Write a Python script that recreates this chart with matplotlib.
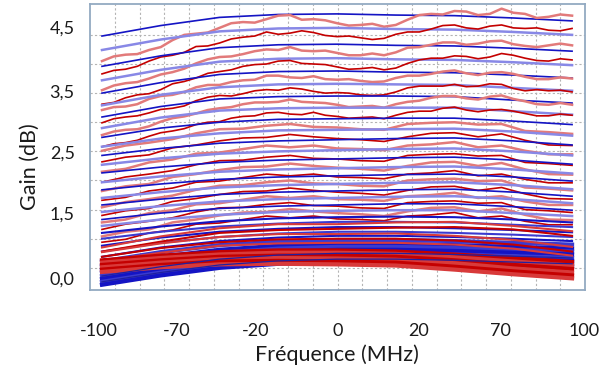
import matplotlib
matplotlib.use("Agg")
import matplotlib.pyplot as plt

plt.rcParams['font.family'] = ['Lato', 'DejaVu Sans']

# ---------------- data ----------------
freq_coarse = [-100, -75, -50, -25, 0, 25, 50, 75, 100]
freq_fine = [-100, -90, -80, -70, -60, -50, -40, -30, -20, -10, 0,
             10, 20, 30, 40, 50, 60, 70, 80, 90, 100]
freq_finest = [-100, -95, -90, -85, -80, -75, -70, -65, -60, -55, -50,
               -45, -40, -35, -30, -25, -20, -15, -10, -5, 0,
               5, 10, 15, 20, 25, 30, 35, 40, 45, 50,
               55, 60, 65, 70, 75, 80, 85, 90, 95, 100]

# simulated gain curves (blue), dB, at freq_coarse
b01 = [4.48, 4.66, 4.80, 4.85, 4.86, 4.84, 4.83, 4.79, 4.74]
b02 = [4.24, 4.42, 4.56, 4.61, 4.62, 4.60, 4.59, 4.55, 4.50]
b03 = [3.96, 4.14, 4.28, 4.33, 4.34, 4.32, 4.31, 4.27, 4.22]
b04 = [3.72, 3.90, 4.04, 4.09, 4.10, 4.08, 4.07, 4.03, 3.98]
b05 = [3.50, 3.68, 3.82, 3.87, 3.88, 3.86, 3.85, 3.81, 3.76]
b06 = [3.29, 3.47, 3.60, 3.65, 3.66, 3.65, 3.64, 3.59, 3.54]
b07 = [3.09, 3.27, 3.40, 3.44, 3.45, 3.45, 3.44, 3.38, 3.33]
b08 = [2.90, 3.08, 3.20, 3.24, 3.25, 3.25, 3.25, 3.19, 3.13]
b09 = [2.74, 2.90, 3.00, 3.05, 3.06, 3.07, 3.07, 3.02, 2.96]
b10 = [2.58, 2.72, 2.81, 2.86, 2.87, 2.88, 2.89, 2.84, 2.77]
b11 = [2.43, 2.55, 2.64, 2.68, 2.70, 2.72, 2.73, 2.68, 2.61]
b12 = [2.27, 2.38, 2.46, 2.50, 2.52, 2.54, 2.55, 2.50, 2.43]
b13 = [2.13, 2.23, 2.31, 2.35, 2.37, 2.39, 2.40, 2.35, 2.28]
b14 = [1.97, 2.07, 2.15, 2.19, 2.21, 2.23, 2.24, 2.19, 2.12]
b15 = [1.84, 1.94, 2.02, 2.06, 2.08, 2.10, 2.11, 2.06, 1.99]
b16 = [1.70, 1.80, 1.88, 1.92, 1.94, 1.96, 1.97, 1.92, 1.85]
b17 = [1.58, 1.68, 1.76, 1.80, 1.82, 1.84, 1.85, 1.80, 1.73]
b18 = [1.46, 1.56, 1.64, 1.68, 1.70, 1.72, 1.73, 1.68, 1.61]
b19 = [1.33, 1.44, 1.52, 1.56, 1.58, 1.60, 1.60, 1.55, 1.49]
b20 = [1.22, 1.33, 1.41, 1.46, 1.48, 1.49, 1.49, 1.44, 1.39]
b21 = [1.10, 1.21, 1.30, 1.35, 1.37, 1.38, 1.37, 1.33, 1.28]
b22 = [1.00, 1.12, 1.21, 1.26, 1.29, 1.29, 1.28, 1.24, 1.20]
b23 = [0.88, 1.02, 1.12, 1.17, 1.20, 1.20, 1.18, 1.15, 1.11]
b24 = [0.78, 0.93, 1.03, 1.09, 1.12, 1.12, 1.10, 1.07, 1.03]
b25 = [0.69, 0.85, 0.96, 1.02, 1.05, 1.05, 1.03, 1.00, 0.96]
b26 = [0.61, 0.77, 0.89, 0.95, 0.98, 0.98, 0.96, 0.93, 0.90]
b27 = [0.53, 0.69, 0.81, 0.88, 0.91, 0.91, 0.89, 0.86, 0.83]
b28 = [0.47, 0.63, 0.76, 0.83, 0.86, 0.86, 0.84, 0.81, 0.78]
b29 = [0.42, 0.58, 0.71, 0.78, 0.81, 0.81, 0.79, 0.76, 0.73]
b30 = [0.36, 0.52, 0.65, 0.72, 0.75, 0.75, 0.73, 0.70, 0.67]
b31 = [0.31, 0.47, 0.60, 0.67, 0.70, 0.70, 0.68, 0.65, 0.62]
b32 = [0.26, 0.42, 0.55, 0.62, 0.65, 0.65, 0.63, 0.60, 0.57]
b33 = [0.21, 0.37, 0.50, 0.57, 0.60, 0.60, 0.58, 0.55, 0.52]

# measured gain curves (red), dB, at freq_finest
r01 = [4.05, 4.13, 4.16, 4.17, 4.24, 4.29, 4.41, 4.50, 4.52, 4.54, 4.62, 4.70, 4.72, 4.71, 4.77, 4.83, 4.84, 4.76, 4.77, 4.75, 4.70,
       4.66, 4.67, 4.69, 4.64, 4.67, 4.76, 4.84, 4.86, 4.85, 4.91, 4.90, 4.84, 4.86, 4.95, 4.88, 4.86, 4.79, 4.81, 4.85, 4.83]
r02 = [3.83, 3.89, 3.91, 3.96, 4.05, 4.12, 4.15, 4.20, 4.30, 4.31, 4.36, 4.43, 4.46, 4.48, 4.55, 4.51, 4.53, 4.57, 4.54, 4.49, 4.47,
       4.48, 4.45, 4.42, 4.44, 4.51, 4.55, 4.55, 4.60, 4.66, 4.67, 4.62, 4.60, 4.65, 4.67, 4.62, 4.61, 4.62, 4.58, 4.57, 4.61]
r03 = [3.55, 3.63, 3.67, 3.69, 3.75, 3.82, 3.86, 3.92, 4.01, 4.08, 4.12, 4.13, 4.17, 4.22, 4.25, 4.24, 4.29, 4.23, 4.22, 4.23, 4.19,
       4.15, 4.15, 4.18, 4.15, 4.20, 4.28, 4.29, 4.33, 4.37, 4.37, 4.33, 4.35, 4.39, 4.40, 4.34, 4.31, 4.29, 4.32, 4.35, 4.32]
r04 = [3.31, 3.34, 3.42, 3.47, 3.49, 3.56, 3.66, 3.70, 3.76, 3.84, 3.87, 3.90, 3.96, 3.99, 4.00, 4.05, 4.06, 4.01, 4.00, 3.99, 3.95,
       3.91, 3.92, 3.94, 3.90, 3.93, 4.01, 4.07, 4.10, 4.10, 4.14, 4.13, 4.09, 4.12, 4.18, 4.15, 4.10, 4.06, 4.05, 4.09, 4.07]
r05 = [3.21, 3.26, 3.27, 3.31, 3.40, 3.45, 3.47, 3.52, 3.60, 3.64, 3.64, 3.69, 3.72, 3.73, 3.80, 3.80, 3.77, 3.76, 3.79, 3.74, 3.73,
       3.74, 3.71, 3.69, 3.70, 3.76, 3.80, 3.80, 3.83, 3.87, 3.89, 3.84, 3.81, 3.85, 3.86, 3.83, 3.78, 3.74, 3.74, 3.77, 3.75]
r06 = [2.99, 3.06, 3.09, 3.11, 3.16, 3.22, 3.24, 3.28, 3.37, 3.43, 3.46, 3.45, 3.49, 3.54, 3.56, 3.55, 3.59, 3.57, 3.53, 3.50, 3.51,
       3.50, 3.47, 3.46, 3.47, 3.52, 3.59, 3.62, 3.62, 3.62, 3.65, 3.61, 3.62, 3.66, 3.65, 3.58, 3.54, 3.56, 3.54, 3.55, 3.52]
r07 = [2.78, 2.84, 2.87, 2.88, 2.93, 3.01, 3.07, 3.10, 3.15, 3.21, 3.24, 3.26, 3.31, 3.34, 3.34, 3.35, 3.39, 3.35, 3.34, 3.33, 3.30,
       3.26, 3.27, 3.28, 3.25, 3.31, 3.35, 3.37, 3.42, 3.45, 3.45, 3.41, 3.39, 3.44, 3.46, 3.40, 3.36, 3.31, 3.30, 3.33, 3.30]
r08 = [2.58, 2.63, 2.65, 2.69, 2.76, 2.82, 2.85, 2.89, 2.96, 3.00, 3.01, 3.07, 3.10, 3.11, 3.16, 3.17, 3.14, 3.13, 3.17, 3.12, 3.10,
       3.07, 3.08, 3.09, 3.06, 3.12, 3.17, 3.19, 3.19, 3.24, 3.26, 3.21, 3.18, 3.21, 3.22, 3.19, 3.15, 3.11, 3.11, 3.14, 3.12]
# measured gain curves (red), dB, at freq_fine
r09 = [2.51, 2.60, 2.65, 2.71, 2.81, 2.88, 2.89, 2.94, 2.97, 2.92, 2.91, 2.88, 2.87, 2.97, 2.99, 3.00, 2.96, 2.97, 2.85, 2.83, 2.80]
r10 = [2.32, 2.40, 2.44, 2.56, 2.61, 2.68, 2.73, 2.74, 2.79, 2.75, 2.72, 2.70, 2.67, 2.75, 2.81, 2.82, 2.75, 2.80, 2.69, 2.61, 2.60]
r11 = [2.15, 2.20, 2.31, 2.36, 2.46, 2.48, 2.54, 2.60, 2.57, 2.60, 2.55, 2.54, 2.52, 2.60, 2.62, 2.66, 2.57, 2.60, 2.51, 2.45, 2.45]
r12 = [1.97, 2.06, 2.11, 2.17, 2.27, 2.34, 2.35, 2.40, 2.43, 2.38, 2.37, 2.34, 2.33, 2.43, 2.45, 2.46, 2.42, 2.43, 2.31, 2.29, 2.26]
r13 = [1.82, 1.90, 1.94, 2.06, 2.11, 2.18, 2.23, 2.24, 2.29, 2.25, 2.22, 2.20, 2.17, 2.25, 2.31, 2.32, 2.25, 2.30, 2.19, 2.11, 2.10]
r14 = [1.66, 1.71, 1.82, 1.87, 1.97, 1.99, 2.05, 2.11, 2.08, 2.11, 2.06, 2.05, 2.03, 2.11, 2.13, 2.17, 2.08, 2.11, 2.02, 1.96, 1.96]
r15 = [1.54, 1.63, 1.68, 1.74, 1.84, 1.91, 1.92, 1.97, 2.00, 1.95, 1.94, 1.91, 1.90, 2.00, 2.02, 2.03, 1.99, 2.00, 1.88, 1.86, 1.83]
r16 = [1.40, 1.48, 1.52, 1.64, 1.69, 1.76, 1.81, 1.82, 1.87, 1.83, 1.80, 1.78, 1.75, 1.83, 1.89, 1.90, 1.83, 1.88, 1.77, 1.69, 1.68]
r17 = [1.28, 1.33, 1.44, 1.49, 1.59, 1.61, 1.67, 1.73, 1.70, 1.73, 1.68, 1.67, 1.65, 1.73, 1.75, 1.79, 1.70, 1.73, 1.64, 1.58, 1.58]
r18 = [1.16, 1.25, 1.30, 1.36, 1.46, 1.53, 1.54, 1.59, 1.62, 1.57, 1.56, 1.53, 1.52, 1.62, 1.64, 1.65, 1.61, 1.62, 1.50, 1.48, 1.45]
r19 = [1.04, 1.12, 1.16, 1.28, 1.33, 1.40, 1.45, 1.46, 1.51, 1.47, 1.44, 1.42, 1.39, 1.47, 1.53, 1.54, 1.47, 1.52, 1.41, 1.33, 1.32]
r20 = [0.94, 0.99, 1.10, 1.15, 1.25, 1.27, 1.33, 1.39, 1.36, 1.39, 1.34, 1.33, 1.31, 1.39, 1.41, 1.45, 1.36, 1.39, 1.30, 1.24, 1.24]
# lower measured curves (red), dB, at freq_coarse
r21 = [0.85, 1.04, 1.18, 1.25, 1.25, 1.28, 1.29, 1.22, 1.13]
r22 = [0.78, 0.95, 1.10, 1.15, 1.17, 1.19, 1.20, 1.16, 1.05]
r23 = [0.77, 0.92, 1.03, 1.08, 1.08, 1.09, 1.05, 0.98, 0.86]
r24 = [0.69, 0.84, 0.94, 0.99, 1.00, 1.00, 0.97, 0.90, 0.78]
r25 = [0.62, 0.76, 0.88, 0.92, 0.93, 0.93, 0.90, 0.83, 0.71]
r26 = [0.63, 0.71, 0.77, 0.80, 0.80, 0.78, 0.73, 0.67, 0.60]
r27 = [0.59, 0.67, 0.73, 0.76, 0.76, 0.74, 0.68, 0.61, 0.54]
r28 = [0.55, 0.63, 0.69, 0.71, 0.71, 0.69, 0.63, 0.55, 0.48]
r29 = [0.51, 0.59, 0.65, 0.67, 0.66, 0.64, 0.58, 0.49, 0.42]
r30 = [0.47, 0.55, 0.61, 0.62, 0.61, 0.59, 0.52, 0.44, 0.37]
r31 = [0.43, 0.51, 0.56, 0.57, 0.56, 0.54, 0.47, 0.39, 0.32]

blue_curves = [b01, b02, b03, b04, b05, b06, b07, b08, b09, b10, b11,
               b12, b13, b14, b15, b16, b17, b18, b19, b20, b21, b22,
               b23, b24, b25, b26, b27, b28, b29, b30, b31, b32, b33]
red_curves = ([(freq_finest, r) for r in [r01, r02, r03, r04, r05, r06, r07, r08]]
              + [(freq_fine, r) for r in [r09, r10, r11, r12, r13, r14, r15, r16,
                                          r17, r18, r19, r20]]
              + [(freq_coarse, r) for r in [r21, r22, r23, r24, r25, r26, r27,
                                            r28, r29, r30, r31]])

x_tick_labels = ['-100', '-70', '-20', '0', '20', '70', '100']
y_tick_labels = ['4,5', '3,5', '2,5', '1,5', '0,0']

# ---------------- figure ----------------
W, H = 612, 376
fig = plt.figure(figsize=(W / 100, H / 100), dpi=100)
ax = fig.add_axes([90 / W, 1 - 290 / H, 495 / W, 286 / H])

xlo, xhi = -105.1, 105.5
ylo, yhi = 0.12, 5.03
ax.set_xlim(xlo, xhi)
ax.set_ylim(ylo, yhi)

# grid
step = (xhi - xlo) / 20
for k in range(1, 20):
    ax.axvline(xlo + k * step, color='#b4b4b4', lw=0.8, ls=(0, (2, 2)), zorder=0)
for g in [0.5, 1.0, 1.5, 2.0, 2.5, 3.0, 3.5, 4.0, 4.5]:
    ax.axhline(g, color='#b4b4b4', lw=0.8, ls=(0, (2, 2)), zorder=0)

dark_blue, light_blue = '#1414c4', '#8888e6'
dark_red, light_red = '#c40000', '#e27a7a'

n_upper = 20
# upper part: each blue curve followed by its measured (red) curve
for i in range(n_upper):
    if i % 2 == 0:
        ax.plot(freq_coarse, blue_curves[i], color=dark_blue, lw=1.2, zorder=2)
    else:
        ax.plot(freq_coarse, blue_curves[i], color=light_blue, lw=1.8, zorder=2)
    fx, fy = red_curves[i]
    if i % 2 == 1:
        ax.plot(fx, fy, color=dark_red, lw=1.2, zorder=2)
    else:
        ax.plot(fx, fy, color=light_red, lw=1.8, zorder=2)

# lower, dense part: blue first, then red on top
for i in range(n_upper, len(blue_curves)):
    c = dark_blue if i % 2 == 0 else '#3a3ad0'
    lw = 1.5 if i < 25 else 3.0
    ax.plot(freq_coarse, blue_curves[i], color=c, lw=lw, zorder=2)
for i in range(n_upper, len(red_curves)):
    c = dark_red if i % 2 == 1 else '#d83a3a'
    lw = 1.5 if i < 25 else 3.0
    ax.plot(*red_curves[i], color=c, lw=lw, zorder=3)
for i in [29, 31]:
    ax.plot(freq_coarse, blue_curves[i], color='#2020a0', lw=0.9, zorder=4)

# ticks
px_to_x = lambda px: (px - 102) / 2.35 - 100
x_tick_px = [99, 177, 256, 338, 419, 500, 584]
ax.set_xticks([px_to_x(p) for p in x_tick_px])
ax.set_xticklabels(x_tick_labels)
px_to_y = lambda py: 4.5 - (py - 35) / 58.2
y_tick_px = [27, 91, 152, 213, 278]
ax.set_yticks([px_to_y(p) for p in y_tick_px])
ax.set_yticklabels(y_tick_labels)
ax.tick_params(axis='both', length=0, labelsize=13, colors='#1a1a1a')
ax.tick_params(axis='x', pad=24)
ax.tick_params(axis='y', pad=11)

for s in ax.spines.values():
    s.set_color('#93aac2')
    s.set_linewidth(1.3)

fig.text(337 / W, 1 - 355 / H, 'Fréquence (MHz)', ha='center', va='center',
         fontsize=15.5, color='#1a1a1a')
fig.text(30 / W, 1 - 167 / H, 'Gain (dB)', ha='center', va='center',
         rotation=90, fontsize=15.5, color='#1a1a1a')

fig.savefig('out.png', dpi=100)
